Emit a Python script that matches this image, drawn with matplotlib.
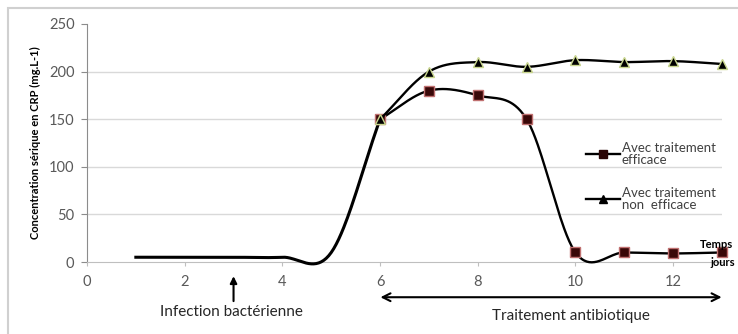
import numpy as np
import matplotlib
matplotlib.use("Agg")
import matplotlib.pyplot as plt
from matplotlib.patches import Rectangle

plt.rcParams['font.family'] = ['Lato', 'DejaVu Sans']

# ---- data ----
days_infection = [1, 2, 3, 4, 5, 6]
crp_infection = [5, 5, 5, 5, 10, 150]

days_treat = [6, 7, 8, 9, 10, 11, 12, 13]
crp_efficace = [150, 180, 175, 150, 10, 10, 9, 10]
crp_non_efficace = [150, 200, 210, 205, 212, 210, 211, 208]

label_efficace = "Avec traitement\nefficace"
label_non_efficace = "Avec traitement\nnon  efficace"
y_label = "Concentration sérique en CRP (mg.L-1)"
x_ticks = [0, 2, 4, 6, 8, 10, 12]
y_ticks = [0, 50, 100, 150, 200, 250]
grid_levels = [50, 100, 150, 200]


def smooth(x, y, n=40):
    x = np.asarray(x, float)
    y = np.asarray(y, float)
    m = np.zeros_like(y)
    m[1:-1] = (y[2:] - y[:-2]) / (x[2:] - x[:-2])
    m[0] = (y[1] - y[0]) / (x[1] - x[0])
    m[-1] = (y[-1] - y[-2]) / (x[-1] - x[-2])
    xs, ys = [], []
    for i in range(len(x) - 1):
        h = x[i + 1] - x[i]
        t = np.linspace(0, 1, n)
        h00 = 2 * t**3 - 3 * t**2 + 1
        h10 = t**3 - 2 * t**2 + t
        h01 = -2 * t**3 + 3 * t**2
        h11 = t**3 - t**2
        xs.append(x[i] + t * h)
        ys.append(h00 * y[i] + h10 * h * m[i] + h01 * y[i + 1] + h11 * h * m[i + 1])
    return np.concatenate(xs), np.concatenate(ys)


W, H = 738, 334
fig = plt.figure(figsize=(W / 100, H / 100), dpi=100)
ax = fig.add_axes([87 / W, 1 - 262 / H, (722 - 87) / W, (262 - 24) / H])

# outer chart frame
fig.patches.append(Rectangle((8 / W, -0.1), 1.2, 1 - 8 / H + 0.1, transform=fig.transFigure,
                             fill=False, edgecolor='#d0d0d0', lw=1.5))

ax.set_xlim(0, 13)
ax.set_ylim(0, 250)
for s in ['top', 'right']:
    ax.spines[s].set_visible(False)
ax.spines['left'].set_color('#8c8c8c')
ax.spines['bottom'].set_color('#bfbfbf')
for lv in grid_levels:
    ax.axhline(lv, color='#d9d9d9', lw=1, zorder=0)

ax.set_xticks(x_ticks)
ax.set_yticks(y_ticks)
ax.tick_params(axis='y', length=4, width=0.8, color='#8c8c8c', pad=5, labelsize=10.5, labelcolor='#595959')
ax.tick_params(axis='x', length=3, width=0.8, color='#bfbfbf', pad=6, labelsize=10.5, labelcolor='#595959')
ax.set_ylabel(y_label, fontsize=8, fontweight='bold', labelpad=6)

# curves
xs, ys = smooth(days_infection, crp_infection)
ax.plot(xs, ys, color='black', lw=2.2, clip_on=False, zorder=3)

xs, ys = smooth(days_treat, crp_efficace)
ax.plot(xs, ys, color='black', lw=1.7, clip_on=False, zorder=3)
ax.plot(days_treat, crp_efficace, ls='none', marker='s', ms=7.5, mfc='#3a0808', mec='#c07070',
        mew=1, clip_on=False, zorder=4)

xs, ys = smooth(days_treat, crp_non_efficace)
ax.plot(xs, ys, color='black', lw=1.7, clip_on=False, zorder=5)
ax.plot(days_treat, crp_non_efficace, ls='none', marker='^', ms=7, mfc='black', mec='#c9d68e',
        mew=1, clip_on=False, zorder=6)

# legend
h1, = ax.plot([], [], color='black', lw=1.7, marker='s', ms=6, mfc='#2a0505', mec='#2a0505')
h2, = ax.plot([], [], color='black', lw=1.7, marker='^', ms=6, mfc='black', mec='black')
leg = ax.legend([h1, h2], [label_efficace, label_non_efficace], frameon=False,
                loc='upper left', bbox_to_anchor=(586 / W, 1 - 142 / H),
                bbox_transform=fig.transFigure, fontsize=9.5, handlelength=2.6,
                handletextpad=0.1, labelspacing=1.6, borderpad=0, borderaxespad=0)
for t in leg.get_texts():
    t.set_color('#404040')
    t.set_linespacing(1.0)

# annotations
fig.text(716 / W, 1 - 244 / H, "Temps", fontsize=8, fontweight='bold', ha='center', va='center')
fig.text(723 / W, 1 - 262 / H, "jours", fontsize=8, fontweight='bold', ha='center', va='center')

ax.annotate('', xy=(3, -12), xytext=(3, -44), xycoords='data', annotation_clip=False,
            arrowprops=dict(arrowstyle='-|>', color='black', lw=1.5, mutation_scale=10))
fig.text(231 / W, 1 - 312 / H, "Infection bactérienne", fontsize=11, ha='center', va='center',
         color='#262626')

ax.annotate('', xy=(5.95, -37), xytext=(13.05, -37), xycoords='data', annotation_clip=False,
            arrowprops=dict(arrowstyle='<->', color='black', lw=1.5, mutation_scale=14))
fig.text(571 / W, 1 - 316 / H, "Traitement antibiotique", fontsize=11, ha='center', va='center',
         color='#262626')

fig.savefig('out.png', dpi=100)
